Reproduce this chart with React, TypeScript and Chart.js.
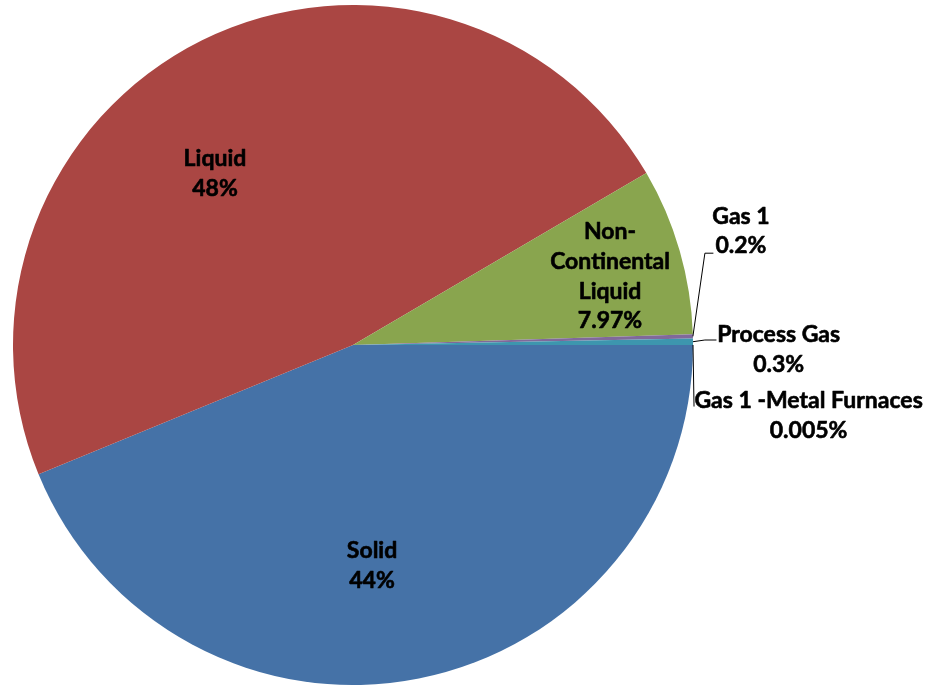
import React, { useEffect, useRef } from "react";
import { Chart, registerables } from "chart.js";

Chart.register(...registerables);

// ---- data ----
const categories = [
  "Solid",
  "Liquid",
  "Non-Continental Liquid",
  "Gas 1",
  "Process Gas",
  "Gas 1 -Metal Furnaces",
];
const values = [44, 48, 7.97, 0.2, 0.3, 0.005];
const nameLines = [
  ["Solid"],
  ["Liquid"],
  ["Non-", "Continental", "Liquid"],
  ["Gas 1"],
  ["Process Gas"],
  ["Gas 1 -Metal Furnaces"],
];

// ---- styles / layout ----
const colors = ["#4572A7", "#AA4643", "#89A54E", "#80699B", "#3D96AE", "#DB843D"];
// label block centres, as fractions of the radius relative to the pie centre
const labelPos: [number, number][] = [
  [0.056, 0.648],
  [-0.406, -0.505],
  [0.756, -0.203],
  [1.141, -0.336],
  [1.252, 0.012],
  [1.34, 0.207],
];
// leader line points (after the slice edge point), fractions of radius
const leaders: ([number, number][] | null)[] = [
  null,
  null,
  null,
  [
    [1.035, -0.27],
    [1.06, -0.27],
  ],
  [
    [1.035, -0.0147],
    [1.069, -0.0147],
  ],
  [[1.003, 0.181]],
];
const FONT_SIZE = 23;
const LINE_H = 29.7;
const CAP = 15.5;

const labelPlugin = {
  id: "pieLabels",
  afterDraw(chart: any) {
    const ctx = chart.ctx as CanvasRenderingContext2D;
    const meta = chart.getDatasetMeta(0);
    const a0 = meta.data[0].getProps(["x", "y", "outerRadius"], true);
    const cx = a0.x,
      cy = a0.y,
      R = a0.outerRadius;
    ctx.save();
    // leader lines
    ctx.strokeStyle = "#000";
    ctx.lineWidth = 1;
    leaders.forEach((pts, i) => {
      if (!pts) return;
      const p = meta.data[i].getProps(["startAngle", "endAngle"], true);
      const mid = (p.startAngle + p.endAngle) / 2;
      ctx.beginPath();
      ctx.moveTo(cx + Math.cos(mid) * R, cy + Math.sin(mid) * R);
      pts.forEach(([fx, fy]) => ctx.lineTo(cx + fx * R, cy + fy * R));
      ctx.stroke();
    });
    // text
    ctx.fillStyle = "#000";
    ctx.strokeStyle = "#000";
    ctx.lineWidth = 0.6;
    ctx.lineJoin = "round";
    ctx.font = `bold ${FONT_SIZE}px Lato`;
    ctx.textAlign = "center";
    ctx.textBaseline = "alphabetic";
    categories.forEach((_, i) => {
      const lines = [...nameLines[i], `${values[i]}%`];
      const [fx, fy] = labelPos[i];
      const bx = cx + fx * R;
      const by = cy + fy * R;
      const first = by - ((lines.length - 1) * LINE_H) / 2 + CAP / 2;
      lines.forEach((t, j) => {
        ctx.fillText(t, bx, first + j * LINE_H);
        ctx.strokeText(t, bx, first + j * LINE_H);
      });
    });
    ctx.restore();
  },
};

export default function App() {
  const ref = useRef<HTMLCanvasElement>(null);
  useEffect(() => {
    if (!ref.current) return;
    const chart = new Chart(ref.current, {
      type: "pie",
      data: {
        labels: categories,
        datasets: [
          {
            data: values,
            backgroundColor: colors,
            borderWidth: 0,
            hoverOffset: 0,
          },
        ],
      },
      options: {
        responsive: false,
        animation: false,
        rotation: 90,
        layout: { padding: { left: 13, right: 237, top: 5, bottom: 0 } },
        plugins: {
          legend: { display: false },
          tooltip: { enabled: false },
        },
      },
      plugins: [labelPlugin],
    });
    return () => chart.destroy();
  }, []);
  return (
    <div style={{ position: "fixed", left: 0, top: 0, width: 930, height: 685, background: "#fff" }}>
      <canvas ref={ref} width={930} height={685} />
    </div>
  );
}
